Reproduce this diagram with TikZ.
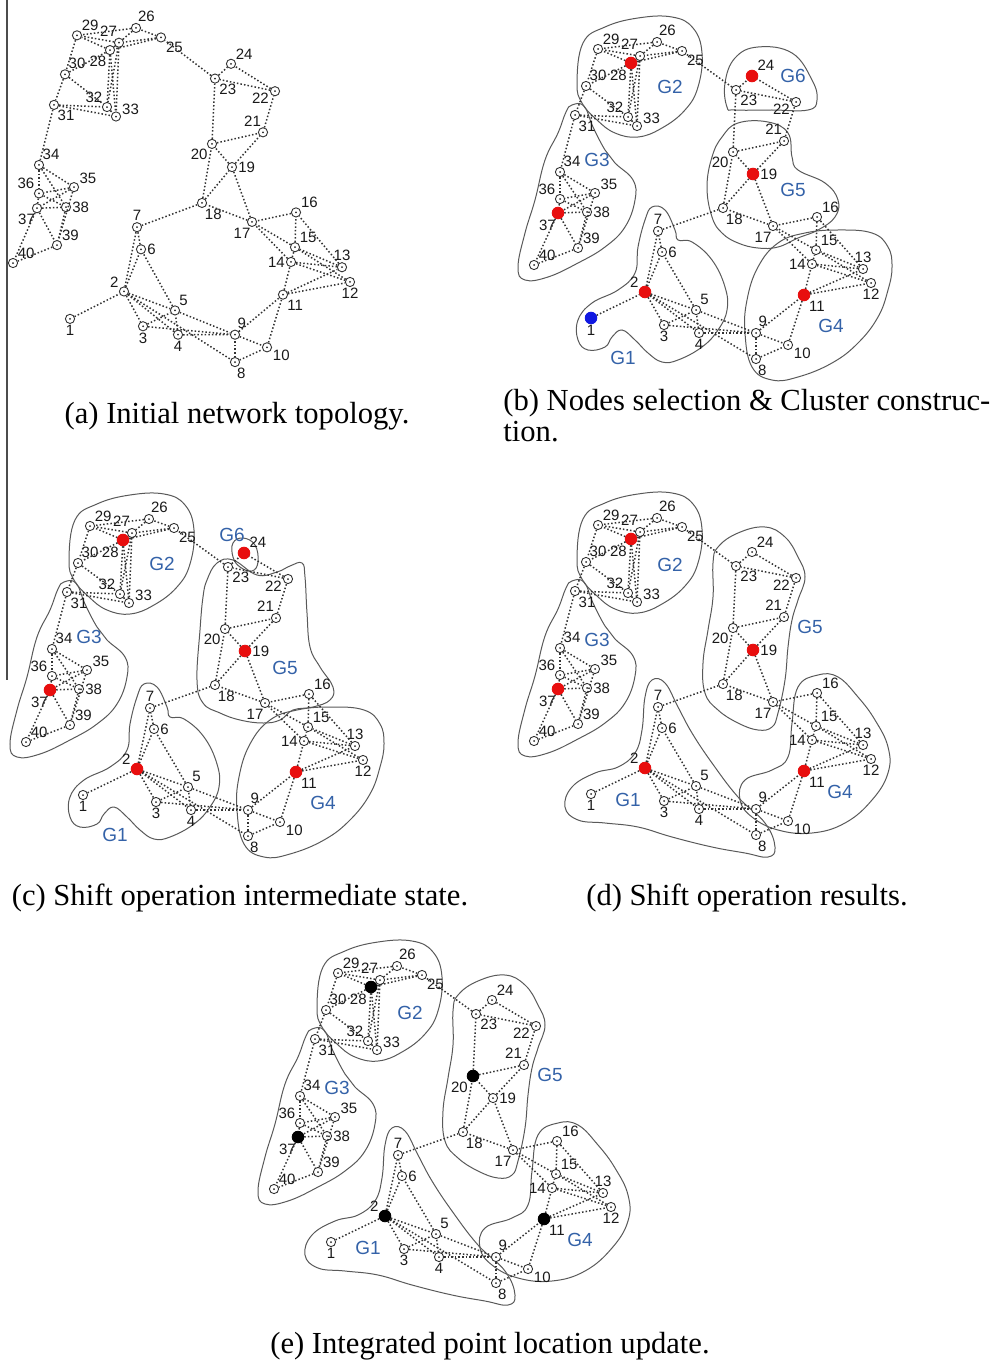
\documentclass[tikz,border=0pt]{standalone}
\usepackage{fontspec}
\setmainfont{Liberation Serif}
\setsansfont{Liberation Sans}
\usetikzlibrary{calc}

\definecolor{hotred}{RGB}{232,14,14}
\definecolor{selblue}{RGB}{16,24,225}
\definecolor{gblue}{RGB}{52,98,168}

\tikzset{
  ctr/.style={black!85},
  pt/.style={circle,draw=black!80,fill=white,line width=0.45pt,inner sep=0pt,minimum size=4.6pt,
    path picture={\fill[ctr] (path picture bounding box.center) circle (0.5pt);}},
  hot/.style={fill=hotred,draw=hotred,minimum size=5.8pt,ctr/.style={hotred}},
  blu/.style={fill=selblue,draw=selblue,minimum size=5.8pt,ctr/.style={selblue}},
  blk/.style={fill=black,draw=black,minimum size=5.8pt,ctr/.style={black}},
  num/.style={font=\sffamily\fontsize{7.5}{7.5}\selectfont,inner sep=0.4pt,text=black!90},
  link/.style={black!80,line width=0.75pt,dash pattern=on 0.75pt off 1.05pt},
  hull/.style={black!65,line width=0.5pt},
  grp/.style={font=\sffamily\fontsize{9.5}{10}\selectfont,text=gblue,inner sep=0pt},
  captxt/.style={font=\fontsize{15.3}{16.5}\selectfont,inner sep=0pt}
}

% node / x / y / label angle
\def\netpts{1/591/318/-90, 2/645/292/150, 3/664/325/-90, 4/699/333/-90, 5/696/310/50,
  6/662/252/0, 7/658/231/90, 8/756/359/-80, 9/756/333/75, 10/788/345/-20,
  11/804/295/-50, 12/871/283/-90, 13/863/269/90, 14/812/264/180, 15/816/250/45,
  16/817/217/40, 17/773/226/-95, 18/723/208/-70, 19/753/174/0, 20/733/152/-130,
  21/784/141/100, 22/796/102/190, 23/736/90/-50, 24/752/76/45, 25/682/51/-40,
  26/657/42/80, 27/640/56/100, 28/631/63/-120, 29/598/49/45, 30/586/86/60,
  31/575/115/-60, 32/628/117/135, 33/637/126/10, 34/560/172/60, 35/595/193/30,
  36/560/199/135, 37/558/213/-100, 38/587/212/0, 39/578/248/40, 40/534/265/45}

\def\netlinks{1/2,2/3,2/4,2/5,2/6,2/7,2/8,3/5,3/9,4/5,4/9,5/6,5/9,6/7,7/18,8/9,8/10,
  9/10,9/11,10/11,11/12,11/13,11/14,12/14,12/15,13/14,13/15,13/16,14/15,15/16,14/17,
  15/17,16/17,17/18,17/19,18/19,18/20,19/20,19/21,20/21,21/22,20/23,22/23,22/24,23/24,
  23/25,25/26,25/27,25/28,26/27,26/29,27/28,27/29,28/29,28/30,29/30,30/31,30/32,31/32,
  31/33,27/32,27/33,28/32,28/33,32/33,31/34,34/35,34/36,34/38,35/36,35/37,35/39,36/37,
  36/38,37/38,37/39,38/39,37/40,39/40}

\newcommand\drawnet{%
  \foreach \n/\x/\y/\a in \netpts
    \node[pt,nd\n/.try,label={[num]\a:\n}] (\n) at (\x,\y) {};
  \foreach \u/\v in \netlinks
    \draw[link] (\u) -- (\v);
}

% cluster outlines
\newcommand\hullGtwo{\draw[hull] plot[smooth cycle,tension=.7] coordinates {(577,83) (583,43) (605,27) (638,18) (672,17) (693,28) (702,53) (698,87) (685,110) (662,128) (638,137) (615,133) (597,120) (582,103)};}
\newcommand\hullGthree{\draw[hull] plot[smooth cycle,tension=.7] coordinates {(572,105) (584,106) (593,127) (605,150) (615,163) (633,180) (635,200) (625,227) (605,247) (578,263) (548,277) (525,280) (518,267) (525,233) (535,200) (545,160) (558,133) (566,112)};}
\newcommand\hullGone{\draw[hull] plot[smooth cycle,tension=.7] coordinates {(652,207) (665,210) (675,230) (678,240) (692,242) (712,260) (725,287) (727,310) (718,330) (702,347) (678,360) (662,362) (648,353) (635,340) (622,330) (612,337) (605,347) (588,350) (578,340) (578,320) (592,303) (618,290) (635,273) (638,247) (645,220)};}
\newcommand\hullGfour{\draw[hull] plot[smooth cycle,tension=.7] coordinates {(745,333) (747,300) (758,267) (778,243) (805,233) (838,230) (872,233) (888,247) (892,267) (888,290) (878,317) (858,343) (832,363) (798,377) (772,380) (752,367)};}
\newcommand\hullGfive{\draw[hull] plot[smooth cycle,tension=.7] coordinates {(738,123) (768,122) (788,133) (792,157) (798,170) (825,183) (838,200) (835,217) (818,230) (798,238) (778,247) (758,248) (738,243) (722,233) (712,217) (707,187) (712,157) (722,137)};}
\newcommand\hullGsix{\draw[hull] plot[smooth cycle,tension=.7] coordinates {(727,107) (725,83) (735,58) (758,47) (792,53) (812,80) (817,100) (808,110) (772,110) (735,110)};}
% after the shift
\newcommand\hullGsixC{\draw[hull] plot[smooth cycle,tension=.7] coordinates {(741,66) (751,61) (763,68) (766,85) (760,94) (748,90) (741,80)};}
\newcommand\hullGfiveC{\draw[hull] plot[smooth cycle,tension=.7] coordinates {(715,103) (725,86) (741,83) (765,98) (785,95) (798,89) (810,86) (813,100) (815,136) (818,170) (828,190) (841,210) (838,223) (821,230) (801,233) (788,243) (771,246) (748,243) (728,236) (711,226) (705,203) (708,153) (711,120)};}
\newcommand\hullGoneD{\draw[hull] plot[smooth cycle,tension=.7] coordinates {(652,204) (665,207) (678,231) (692,257) (712,287) (738,321) (765,347) (775,371) (768,381) (745,377) (712,371) (672,361) (638,351) (605,347) (578,344) (565,331) (572,311) (595,297) (618,291) (635,277) (642,254) (645,221)};}
\newcommand\hullGfourD{\draw[hull] plot[smooth cycle,tension=.7] coordinates {(740,324) (745,304) (772,294) (788,281) (792,247) (798,211) (818,199) (838,201) (858,221) (875,244) (888,271) (888,297) (872,324) (845,347) (812,357) (778,354) (752,341)};}
\newcommand\hullGfiveD{\draw[hull] plot[smooth cycle,tension=.7] coordinates {(718,71) (738,57) (765,51) (785,61) (798,81) (805,101) (798,124) (792,144) (788,171) (785,204) (778,237) (772,251) (758,254) (738,247) (718,234) (705,217) (703,187) (708,154) (713,121) (713,87)};}

\begin{document}
\begin{tikzpicture}[x=0.5pt,y=-0.5pt]
\useasboundingbox (0,0) rectangle (995,1364);
\draw[black!70,line width=0.6pt] (7,0) -- (7,680);

% (a) initial topology
\begin{scope}[name prefix=a-,shift={(-521,-16.3)},yscale=1.054]
  \drawnet
\end{scope}

% (b) selection and clusters
\begin{scope}[name prefix=b-,nd1/.style=blu,nd2/.style=hot,nd11/.style=hot,nd19/.style=hot,
    nd24/.style=hot,nd28/.style=hot,nd37/.style=hot]
  \hullGone \hullGtwo \hullGthree \hullGfour \hullGfive \hullGsix
  \drawnet
  \node[grp] (G1) at (623,358) {G1};
  \node[grp] (G2) at (670,87) {G2};
  \node[grp] (G3) at (597,160) {G3};
  \node[grp] (G4) at (831,326) {G4};
  \node[grp] (G5) at (793,190) {G5};
  \node[grp] (G6) at (793,76) {G6};
\end{scope}

% (c) intermediate shift
\begin{scope}[name prefix=c-,shift={(-508,477)},nd2/.style=hot,nd11/.style=hot,nd19/.style=hot,
    nd24/.style=hot,nd28/.style=hot,nd37/.style=hot]
  \hullGone \hullGtwo \hullGthree \hullGfour \hullGfiveC \hullGsixC
  \drawnet
  \node[grp] (G1) at (623,358) {G1};
  \node[grp] (G2) at (670,87) {G2};
  \node[grp] (G3) at (597,160) {G3};
  \node[grp] (G4) at (831,326) {G4};
  \node[grp] (G5) at (793,191) {G5};
  \node[grp] (G6) at (740,58) {G6};
\end{scope}

% (d) shift result
\begin{scope}[name prefix=d-,shift={(0,476)},nd2/.style=hot,nd11/.style=hot,nd19/.style=hot,
    nd28/.style=hot,nd37/.style=hot]
  \hullGoneD \hullGtwo \hullGthree \hullGfourD \hullGfiveD
  \drawnet
  \node[grp] (G1) at (628,324) {G1};
  \node[grp] (G2) at (670,89) {G2};
  \node[grp] (G3) at (597,164) {G3};
  \node[grp] (G4) at (840,316) {G4};
  \node[grp] (G5) at (810,151) {G5};
\end{scope}

% (e) location update
\begin{scope}[name prefix=e-,shift={(-260,924)},nd2/.style=blk,nd11/.style=blk,nd20/.style=blk,
    nd28/.style=blk,nd37/.style=blk]
  \hullGoneD \hullGtwo \hullGthree \hullGfourD \hullGfiveD
  \drawnet
  \node[grp] (G1) at (628,324) {G1};
  \node[grp] (G2) at (670,89) {G2};
  \node[grp] (G3) at (597,164) {G3};
  \node[grp] (G4) at (840,316) {G4};
  \node[grp] (G5) at (810,151) {G5};
\end{scope}

\node[captxt,anchor=base] (capa) at (237,423) {(a) Initial network topology.};
\node[captxt,anchor=base west] (capb) at (503,410) {(b) Nodes selection \& Cluster construc-};
\node[captxt,anchor=base west] (capbb) at (503,441) {tion.};
\node[captxt,anchor=base] (capc) at (240,905) {(c) Shift operation intermediate state.};
\node[captxt,anchor=base] (capd) at (747,905) {(d) Shift operation results.};
\node[captxt,anchor=base] (cape) at (490,1353) {(e) Integrated point location update.};
\end{tikzpicture}
\end{document}
